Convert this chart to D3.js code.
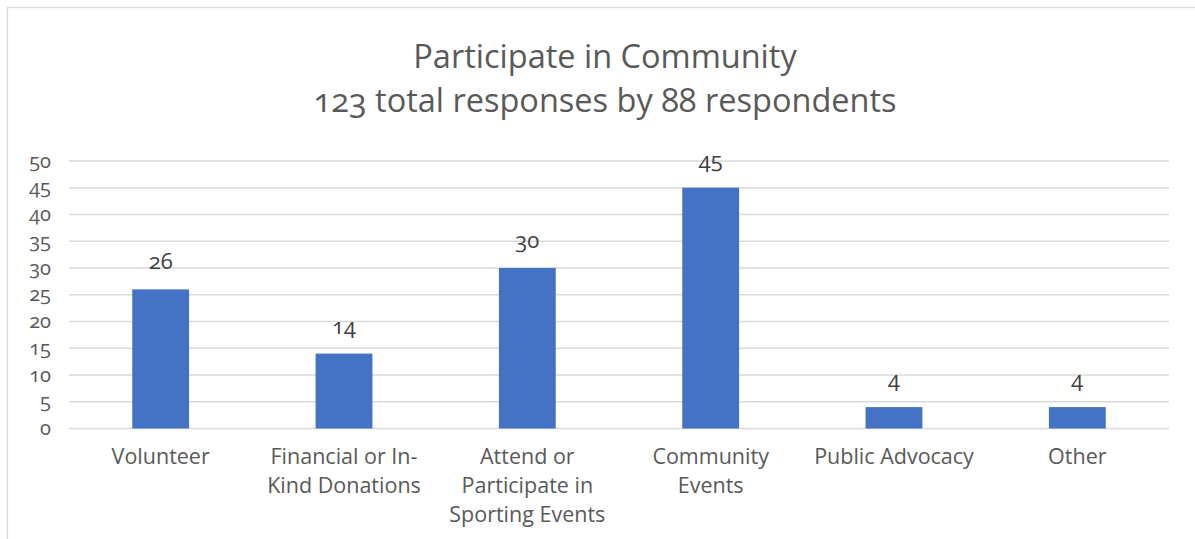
<!DOCTYPE html>
<html><head><meta charset="utf-8">
<script src="https://cdn.jsdelivr.net/npm/d3@7"></script>
<style>
html,body{margin:0;padding:0;background:#fff;}
svg text{font-family:"Open Sans",sans-serif;font-variant-numeric:oldstyle-nums;}
</style></head>
<body><svg id="c" width="1195" height="539"></svg>
<script>
const categories = ["Volunteer", "Financial or In-\nKind Donations", "Attend or\nParticipate in\nSporting Events", "Community\nEvents", "Public Advocacy", "Other"];
const values = [26, 14, 30, 45, 4, 4];
const yTicks = [0, 5, 10, 15, 20, 25, 30, 35, 40, 45, 50];
const titleLines = ["Participate in Community", "123 total responses by 88 respondents"];

const svg = d3.select("#c");
const W = 1195, H = 539;
const m = {left: 69, right: 26, top: 161, bottom: 111};

svg.append("rect").attr("x", 7.5).attr("y", 7.5).attr("width", W + 10).attr("height", H + 10)
  .attr("fill", "#fff").attr("stroke", "#d9d9d9").attr("stroke-width", 1.3);

const x = d3.scaleBand().domain(categories).range([m.left, W - m.right]).paddingInner(0.69).paddingOuter(0.345);
const y = d3.scaleLinear().domain([0, 50]).range([H - m.bottom + 0.5, m.top]);

// gridlines
svg.append("g").selectAll("line").data(yTicks).join("line")
  .attr("x1", m.left).attr("x2", W - m.right)
  .attr("y1", d => y(d)).attr("y2", d => y(d))
  .attr("stroke", "#d9d9d9").attr("stroke-width", 1.3);

// y axis labels
const yAxis = d3.axisLeft(y).tickValues(yTicks).tickSize(0).tickPadding(0);
const ga = svg.append("g").attr("transform", `translate(${m.left - 18},0)`).call(yAxis);
ga.select(".domain").remove();
ga.selectAll("text").attr("font-size", 20).attr("fill", "#595959").attr("text-anchor", "end")
  .attr("dy", "0.3em").style("font-family", "'Open Sans',sans-serif");

// bars
svg.append("g").selectAll("rect").data(values).join("rect")
  .attr("x", (d, i) => x(categories[i])).attr("width", x.bandwidth())
  .attr("y", d => y(d)).attr("height", d => y(0) - y(d))
  .attr("fill", "#4472C4");

// value labels
svg.append("g").selectAll("text").data(values).join("text")
  .attr("x", (d, i) => x(categories[i]) + x.bandwidth() / 2)
  .attr("y", d => y(d) - 20)
  .attr("text-anchor", "middle").attr("font-size", 22).attr("fill", "#404040")
  .text(d => d);

// category labels
const xl = svg.append("g").selectAll("text").data(categories).join("text")
  .attr("x", d => x(d) + x.bandwidth() / 2)
  .attr("y", y(0) + 35)
  .attr("text-anchor", "middle").attr("font-size", 21.5).attr("fill", "#595959");
xl.each(function(d) {
  const t = d3.select(this);
  d.split("\n").forEach((ln, i) => {
    t.append("tspan").attr("x", t.attr("x")).attr("dy", i === 0 ? 0 : 29).text(ln);
  });
});

// title
svg.append("g").selectAll("text").data(titleLines).join("text")
  .attr("x", 605).attr("y", (d, i) => 68 + i * 44)
  .attr("text-anchor", "middle").attr("font-size", 32.5).attr("fill", "#595959")
  .text(d => d);
</script></body></html>
